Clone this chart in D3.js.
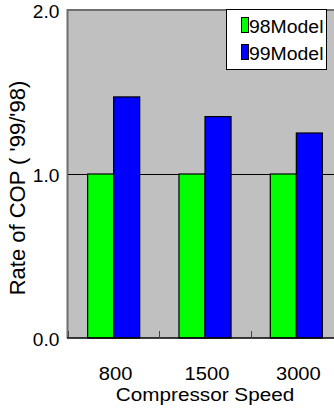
<!DOCTYPE html>
<html>
<head>
<meta charset="utf-8">
<script src="https://cdn.jsdelivr.net/npm/d3@7"></script>
<style>
  html, body { margin: 0; padding: 0; background: #ffffff; }
  svg { display: block; }
  text { font-family: "Liberation Sans", Arial, sans-serif; fill: #000; }
</style>
</head>
<body>
<svg id="chart" width="334" height="414"></svg>
<script>
// Compressor speeds (x categories)
const speeds = ["800", "1500", "3000"];
// Series names and their fill colours
const seriesNames = ["98Model", "99Model"];
const seriesColors = ["#00ff00", "#0000ff"];
// COP ratio values per speed
const model98 = [1.0, 1.0, 1.0];
const model99 = [1.47, 1.35, 1.25];
// Y axis ticks
const yTicks = [0, 1, 2];
const yTickLabels = ["0.0", "1.0", "2.0"];

const seriesValues = [model98, model99];

const svg = d3.select("#chart");
const plot = { left: 68, right: 342, top: 10, bottom: 338 };

const x = d3.scaleBand()
  .domain(speeds)
  .range([plot.left, plot.right])
  .paddingInner(0.43)
  .paddingOuter(0.215);

const xs = d3.scaleBand()
  .domain(seriesNames)
  .range([0, x.bandwidth()]);

const y = d3.scaleLinear()
  .domain([0, 2])
  .range([plot.bottom, plot.top]);

// helper for horizontally stretched lettering
function label(g, tx, ty, str, size, anchor, sx) {
  return g.append("text")
    .attr("transform", `translate(${tx},${ty}) scale(${sx},1)`)
    .attr("text-anchor", anchor || "middle")
    .style("font-size", size + "px")
    .text(str);
}

// plot background
svg.append("rect")
  .attr("x", plot.left).attr("y", plot.top)
  .attr("width", plot.right - plot.left)
  .attr("height", plot.bottom - plot.top)
  .attr("fill", "#c0c0c0");

// top frame and left frame
svg.append("line")
  .attr("x1", plot.left).attr("x2", plot.right)
  .attr("y1", plot.top).attr("y2", plot.top)
  .attr("stroke", "#6e6e6e").attr("stroke-width", 2);
svg.append("line")
  .attr("x1", plot.left - 0.5).attr("x2", plot.left - 0.5)
  .attr("y1", plot.top - 1).attr("y2", plot.bottom)
  .attr("stroke", "#6e6e6e").attr("stroke-width", 2);

// gridline at 1.0
svg.append("g")
  .selectAll("line")
  .data(yTicks.filter(t => t > 0 && t < 2))
  .join("line")
  .attr("x1", plot.left).attr("x2", plot.right)
  .attr("y1", d => Math.round(y(d)) + 0.5).attr("y2", d => Math.round(y(d)) + 0.5)
  .attr("stroke", "#000").attr("stroke-width", 1);

// bars
const groups = svg.append("g")
  .selectAll("g")
  .data(speeds)
  .join("g")
  .attr("transform", d => `translate(${x(d)},0)`);

groups.selectAll("rect")
  .data((d, i) => seriesNames.map((s, k) => ({ s, k, v: seriesValues[k][i] })))
  .join("rect")
  .attr("x", d => xs(d.s))
  .attr("y", d => y(d.v))
  .attr("width", xs.bandwidth())
  .attr("height", d => y(0) - y(d.v))
  .attr("fill", d => seriesColors[d.k])
  .attr("stroke", "#000")
  .attr("stroke-width", 1.2);

// bottom axis line
svg.append("line")
  .attr("x1", plot.left - 1).attr("x2", plot.right)
  .attr("y1", plot.bottom).attr("y2", plot.bottom)
  .attr("stroke", "#000").attr("stroke-width", 1.5);

// category boundary ticks (pointing up into the plot)
const boundaries = [plot.left].concat(speeds.map(d => x(d) + x.bandwidth() + (x.step() - x.bandwidth()) / 2));
svg.append("g")
  .selectAll("line")
  .data(boundaries)
  .join("line")
  .attr("x1", d => Math.round(d) + 0.5).attr("x2", d => Math.round(d) + 0.5)
  .attr("y1", plot.bottom).attr("y2", plot.bottom - 7)
  .attr("stroke", "#444").attr("stroke-width", 1);

// y tick labels
const yAxisG = svg.append("g");
yTicks.forEach((t, i) => {
  label(yAxisG, 59.5, y(t) + 8, yTickLabels[i], 18.6, "end", 1.03);
});

// x tick labels
const xAxisG = svg.append("g");
speeds.forEach(s => {
  label(xAxisG, x(s) + x.bandwidth() / 2 + 2, 380, s, 18, "middle", 1.12);
});

// axis titles
label(svg, 205, 401, "Compressor Speed", 18.5, "middle", 1.12);
svg.append("text")
  .attr("transform", "translate(25,188) rotate(-90)")
  .attr("text-anchor", "middle")
  .style("font-size", "22px")
  .text("Rate of COP ( '99/'98)");

// legend
const legend = svg.append("g");
legend.append("rect")
  .attr("x", 226.5).attr("y", 9.5)
  .attr("width", 100).attr("height", 60)
  .attr("fill", "#fff").attr("stroke", "#000").attr("stroke-width", 1);
seriesNames.forEach((s, k) => {
  const top = 17.5 + k * 27;
  legend.append("rect")
    .attr("x", 241.5).attr("y", top)
    .attr("width", 7).attr("height", 15)
    .attr("fill", seriesColors[k]).attr("stroke", "#000").attr("stroke-width", 1);
  label(legend, 249, top + 15.5, s, 18.5, "start", 1.05);
});
</script>
</body>
</html>
